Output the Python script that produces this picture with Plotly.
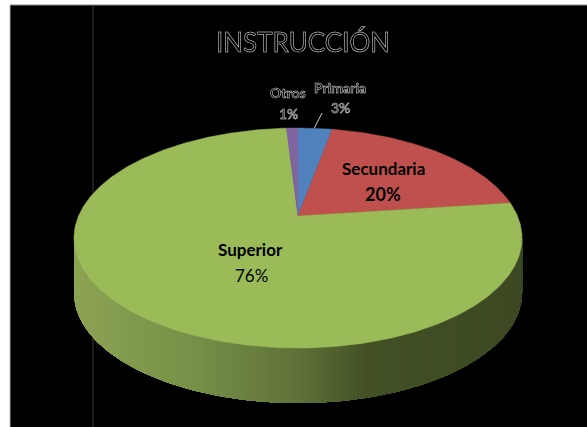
import numpy as np
import plotly.graph_objects as go

# Data
categories = ["Primaria", "Secundaria", "Superior", "Otros"]
values = [3, 20, 76, 1]
colors = ["#4f81bd", "#c0504d", "#9bbb59", "#8064a2"]
title_text = "INSTRUCCIÓN"

# Geometry of the tilted pie, in picture pixels
W, H = 587, 427
CX, APEX_Y = 298, 216
A, B, K = 219.5, 105.6, 0.2
DEPTH = 55


def project(theta):
    u, v = np.cos(theta), np.sin(theta)
    d = 1 + K * u
    return CX + A * v / d, APEX_Y - B * u / d


def mix(stops, t):
    for (t0, c0), (t1, c1) in zip(stops, stops[1:]):
        if t <= t1:
            f = (t - t0) / (t1 - t0)
            rgb = [round(c0[i] + (c1[i] - c0[i]) * f) for i in range(3)]
            return f"rgb({rgb[0]},{rgb[1]},{rgb[2]})"
    return "rgb(%d,%d,%d)" % stops[-1][1]


side_stops = [
    (0.0, (140, 163, 84)),
    (0.25, (120, 145, 72)),
    (0.5, (95, 113, 56)),
    (0.65, (66, 80, 36)),
    (1.0, (60, 73, 36)),
]

fig = go.Figure()

# Page background panel and the faint rules
fig.add_shape(type="rect", x0=10, x1=W, y0=5, y1=H, fillcolor="#000000",
              line=dict(width=0), layer="below")
fig.add_shape(type="line", x0=10, x1=W, y0=5, y1=5,
              line=dict(color="#8a8a8a", width=1), layer="below")
fig.add_shape(type="line", x0=10, x1=10, y0=5, y1=H,
              line=dict(color="#b0b0b0", width=1), layer="below")
fig.add_shape(type="line", x0=93, x1=93, y0=5, y1=H,
              line=dict(color="#3c3c3c", width=1), layer="below")

# Extruded rim: each band runs from its start to the far end and is painted over by the next
th0 = np.arccos(-K)
th1 = 2 * np.pi - th0
n_bands = 160
edges = np.linspace(th1, th0, n_bands + 1)
xmin, xmax = project(np.array([th1]))[0][0], project(np.array([th0]))[0][0]
for i in range(n_bands):
    t = np.linspace(edges[i], th0, 170 - i)
    x, y = project(t)
    xs = np.concatenate([x, x[::-1]])
    ys = np.concatenate([y, y[::-1] + DEPTH])
    col = mix(side_stops, (x[0] - xmin) / (xmax - xmin))
    fig.add_trace(go.Scatter(x=xs, y=ys, mode="lines", fill="toself", fillcolor=col,
                             line=dict(width=0), hoverinfo="skip", showlegend=False))

# Top face slices
total = sum(values)
start = 0.0
mids = []
for name, val, col in zip(categories, values, colors):
    end = start + val / total * 2 * np.pi
    t = np.linspace(start, end, max(4, int(val * 6)))
    x, y = project(t)
    xs = np.concatenate([[CX], x, [CX]])
    ys = np.concatenate([[APEX_Y], y, [APEX_Y]])
    fig.add_trace(go.Scatter(x=xs, y=ys, mode="lines", fill="toself", fillcolor=col,
                             line=dict(color=col, width=0.5), name=name,
                             hoverinfo="name", showlegend=False))
    mids.append((start + end) / 2)
    start = end

# Leader line for the Primaria label
lx, ly = project(np.array([mids[0]]))
fig.add_shape(type="line", x0=float(lx[0]) - 1, y0=float(ly[0]), x1=322, y1=113,
              line=dict(color="#c8c8c8", width=1))

FONT = "Lato, 'Open Sans', sans-serif"
# (category index, name x, name y, value x, value y, name size, value size, value bold)
labels = [
    (0, 340, 87, 340, 107, 14, 14, False),
    (3, 288, 92, 288, 113, 14, 14, False),
    (1, 383, 168, 383, 194, 17, 18, True),
    (2, 250, 249, 251, 275, 17, 17, False),
]
for idx, nx, ny, vx, vy, ns, vs, vb in labels:
    pct = f"{values[idx]}%"
    fig.add_annotation(x=nx, y=ny, text=f"<b>{categories[idx]}</b>", showarrow=False,
                       font=dict(family=FONT, size=ns, color="#000000"))
    fig.add_annotation(x=vx, y=vy, text=f"<b>{pct}</b>" if vb else pct, showarrow=False,
                       font=dict(family=FONT, size=vs, color="#000000"))

fig.update_layout(
    width=W, height=H,
    margin=dict(l=0, r=0, t=0, b=0),
    paper_bgcolor="#ffffff", plot_bgcolor="#ffffff",
    title=dict(
        text=title_text, x=303 / W, y=1 - 43 / H, xanchor="center", yanchor="middle",
        font=dict(family=FONT, size=26, color="#000000"),
    ),
    xaxis=dict(range=[0, W], visible=False, fixedrange=True),
    yaxis=dict(range=[H, 0], visible=False, fixedrange=True),
    showlegend=False,
)

# Black lettering with a hairline pale outline for the text that sits on the black panel
outline_js = """
var outlined = Array.from(document.querySelectorAll('.gtitle'));
[0, 1, 2, 3].forEach(function (k) {
  document.querySelectorAll('.annotation[data-index="' + k + '"] text').forEach(function (e) { outlined.push(e); });
});
outlined.forEach(function (e) {
  e.style.stroke = '#e0e0e0';
  e.style.strokeWidth = '0.5px';
  e.style.filter = 'grayscale(1)';
});
document.body.style.margin = '0';
"""
fig.write_html("out.html", config={"displayModeBar": False}, post_script=outline_js)
